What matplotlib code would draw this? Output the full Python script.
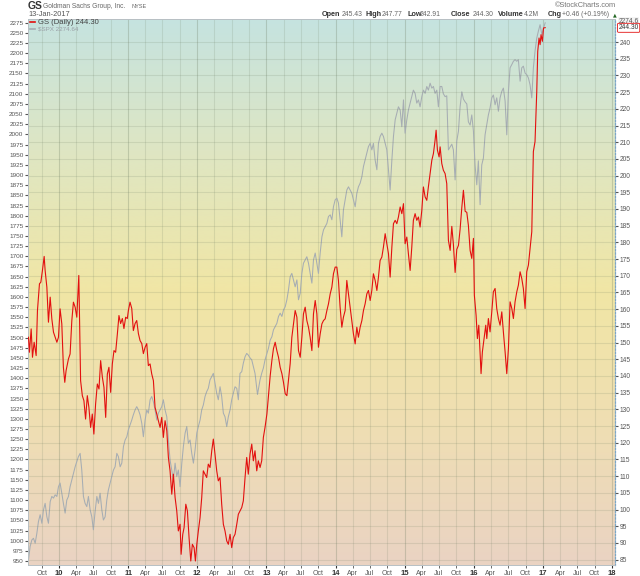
import numpy as np
import pandas as pd
import matplotlib
matplotlib.use("Agg")
import matplotlib.pyplot as plt
import matplotlib.dates as mdates
from matplotlib.colors import LinearSegmentedColormap
from matplotlib.ticker import FixedLocator, FuncFormatter

plt.rcParams['font.family'] = ['Liberation Sans', 'DejaVu Sans']

# ---------------- data (decimal years) ----------------
gs_years = [2009.556, 2009.570, 2009.595, 2009.614, 2009.638, 2009.667, 2009.686, 2009.715, 2009.735, 2009.758,
            2009.783, 2009.797, 2009.822, 2009.845, 2009.870, 2009.894, 2009.918, 2009.942, 2009.967, 2009.990,
            2010.014, 2010.039, 2010.062, 2010.082, 2010.101, 2010.135, 2010.159, 2010.184, 2010.207, 2010.232,
            2010.256, 2010.271, 2010.285, 2010.304, 2010.311, 2010.336, 2010.359, 2010.383, 2010.408, 2010.431,
            2010.456, 2010.480, 2010.503, 2010.528, 2010.553, 2010.577, 2010.601, 2010.626, 2010.649, 2010.674,
            2010.698, 2010.721, 2010.746, 2010.770, 2010.794, 2010.818, 2010.843, 2010.866, 2010.890, 2010.915,
            2010.938, 2010.963, 2010.987, 2011.003, 2011.027, 2011.052, 2011.075, 2011.100, 2011.124, 2011.148,
            2011.172, 2011.197, 2011.220, 2011.245, 2011.269, 2011.292, 2011.317, 2011.341, 2011.365, 2011.389,
            2011.414, 2011.437, 2011.462, 2011.486, 2011.509, 2011.534, 2011.559, 2011.582, 2011.606, 2011.631,
            2011.654, 2011.679, 2011.703, 2011.726, 2011.751, 2011.766, 2011.790, 2011.809, 2011.834, 2011.857,
            2011.881, 2011.906, 2011.929, 2011.954, 2011.973, 2011.993, 2012.016, 2012.041, 2012.065, 2012.088,
            2012.113, 2012.137, 2012.160, 2012.185, 2012.210, 2012.233, 2012.257, 2012.282, 2012.305, 2012.330,
            2012.354, 2012.378, 2012.402, 2012.427, 2012.450, 2012.475, 2012.499, 2012.522, 2012.547, 2012.572,
            2012.595, 2012.619, 2012.644, 2012.667, 2012.692, 2012.716, 2012.739, 2012.764, 2012.789, 2012.812,
            2012.836, 2012.861, 2012.884, 2012.909, 2012.933, 2012.957, 2012.981, 2013.006, 2013.029, 2013.054,
            2013.078, 2013.101, 2013.126, 2013.150, 2013.174, 2013.198, 2013.223, 2013.246, 2013.271, 2013.295,
            2013.318, 2013.343, 2013.367, 2013.391, 2013.415, 2013.440, 2013.463, 2013.488, 2013.512, 2013.535,
            2013.560, 2013.584, 2013.608, 2013.632, 2013.657, 2013.680, 2013.705, 2013.729, 2013.752, 2013.777,
            2013.802, 2013.825, 2013.849, 2013.874, 2013.897, 2013.922, 2013.946, 2013.969, 2013.994, 2014.019,
            2014.042, 2014.066, 2014.091, 2014.114, 2014.139, 2014.163, 2014.187, 2014.211, 2014.236, 2014.259,
            2014.284, 2014.308, 2014.331, 2014.356, 2014.381, 2014.404, 2014.428, 2014.453, 2014.476, 2014.501,
            2014.525, 2014.548, 2014.573, 2014.598, 2014.621, 2014.645, 2014.670, 2014.693, 2014.718, 2014.742,
            2014.766, 2014.790, 2014.815, 2014.838, 2014.863, 2014.887, 2014.910, 2014.935, 2014.959, 2014.983,
            2015.007, 2015.032, 2015.055, 2015.080, 2015.104, 2015.127, 2015.152, 2015.176, 2015.200, 2015.224,
            2015.249, 2015.272, 2015.297, 2015.321, 2015.344, 2015.369, 2015.394, 2015.417, 2015.441, 2015.456,
            2015.475, 2015.499, 2015.514, 2015.538, 2015.561, 2015.586, 2015.610, 2015.634, 2015.659, 2015.683,
            2015.706, 2015.731, 2015.755, 2015.779, 2015.803, 2015.828, 2015.851, 2015.876, 2015.900, 2015.923,
            2015.948, 2015.972, 2015.996, 2016.010, 2016.035, 2016.054, 2016.074, 2016.093, 2016.107, 2016.126,
            2016.151, 2016.175, 2016.190, 2016.213, 2016.237, 2016.262, 2016.285, 2016.310, 2016.334, 2016.358,
            2016.382, 2016.407, 2016.430, 2016.455, 2016.479, 2016.503, 2016.527, 2016.552, 2016.575, 2016.599,
            2016.624, 2016.647, 2016.672, 2016.696, 2016.719, 2016.744, 2016.768, 2016.792, 2016.816, 2016.841,
            2016.864, 2016.888, 2016.913, 2016.927, 2016.946, 2016.961, 2016.975, 2016.994, 2017.009, 2017.033]
gs_close = [151.6, 147.1, 154.1, 145.6, 150.1, 146.1, 159.6, 167.6, 168.1, 171.6,
            175.8, 171.6, 166.6, 156.1, 163.6, 157.1, 153.1, 151.6, 150.1, 151.6,
            160.1, 155.6, 142.6, 138.1, 141.6, 145.1, 146.6, 156.6, 162.1, 160.6,
            157.6, 164.1, 170.1, 146.6, 138.6, 134.1, 132.6, 127.1, 134.1, 130.6,
            124.6, 128.6, 122.6, 131.6, 137.6, 136.1, 144.6, 139.6, 136.6, 127.6,
            140.6, 142.6, 135.1, 143.6, 147.6, 147.1, 152.6, 158.1, 155.7, 157.2,
            154.2, 157.6, 157.2, 159.6, 162.1, 160.2, 153.6, 155.7, 156.6, 152.7,
            150.6, 149.7, 146.7, 148.6, 149.7, 143.1, 143.6, 140.6, 138.6, 130.6,
            128.6, 126.6, 124.6, 127.6, 121.6, 126.6, 123.6, 115.6, 111.6, 104.6,
            110.6, 103.6, 99.6, 93.6, 95.6, 86.6, 92.6, 94.6, 101.6, 99.6,
            91.6, 84.6, 89.6, 88.6, 84.6, 89.6, 93.6, 97.6, 103.6, 111.6,
            110.6, 109.6, 113.6, 112.6, 117.6, 121.1, 116.6, 111.6, 108.6, 109.6,
            101.6, 95.6, 93.6, 90.6, 89.6, 92.6, 88.6, 91.6, 92.6, 95.6,
            98.6, 99.6, 100.6, 102.6, 109.6, 115.6, 110.6, 116.6, 119.6, 114.6,
            117.6, 111.6, 114.6, 112.6, 114.6, 121.6, 124.6, 128.6, 134.1, 140.1,
            144.6, 148.2, 150.1, 147.6, 145.6, 142.6, 140.7, 138.1, 134.7, 134.1,
            138.6, 143.7, 151.6, 155.7, 159.6, 157.6, 147.6, 145.6, 151.6, 158.6,
            160.6, 156.6, 154.6, 151.6, 147.6, 158.6, 162.6, 158.6, 148.6, 152.6,
            155.6, 156.6, 157.1, 159.6, 161.6, 164.6, 166.6, 170.6, 172.6, 172.6,
            168.6, 160.6, 154.6, 157.6, 159.6, 168.6, 164.6, 160.6, 156.6, 152.6,
            149.6, 154.6, 151.6, 154.6, 156.6, 159.6, 161.6, 164.6, 165.6, 162.6,
            165.6, 170.6, 168.6, 165.6, 169.6, 174.6, 175.6, 178.6, 182.6, 179.6,
            176.6, 169.6, 178.6, 185.6, 186.6, 185.6, 187.6, 190.6, 188.6, 191.6,
            179.6, 181.6, 176.6, 171.6, 178.6, 186.6, 188.6, 186.6, 187.6, 184.6,
            189.6, 196.6, 193.6, 192.6, 196.6, 200.6, 204.6, 206.6, 210.6, 213.6,
            207.6, 205.6, 208.6, 203.6, 201.6, 200.6, 197.6, 180.6, 177.6, 184.8,
            179.4, 171.0, 177.9, 179.1, 183.9, 190.5, 195.6, 189.3, 189.0, 185.1,
            177.6, 175.2, 181.2, 164.2, 158.2, 151.2, 155.2, 147.2, 140.7, 147.2,
            151.2, 155.2, 151.2, 157.2, 153.2, 159.2, 165.2, 166.2, 160.2, 157.2,
            155.2, 159.2, 153.2, 147.2, 140.7, 148.2, 162.2, 160.2, 157.2, 162.2,
            165.2, 167.2, 171.2, 169.2, 166.2, 160.2, 171.2, 173.2, 178.2, 183.2,
            207.2, 210.2, 225.2, 237.2, 241.2, 239.2, 242.2, 240.2, 244.2, 244.3]

spx_years = [2009.556, 2009.580, 2009.605, 2009.628, 2009.653, 2009.677, 2009.700, 2009.725, 2009.750, 2009.773,
             2009.797, 2009.822, 2009.845, 2009.870, 2009.894, 2009.918, 2009.942, 2009.967, 2009.990, 2010.014,
             2010.039, 2010.062, 2010.087, 2010.111, 2010.135, 2010.159, 2010.184, 2010.207, 2010.232, 2010.256,
             2010.279, 2010.304, 2010.328, 2010.352, 2010.376, 2010.401, 2010.424, 2010.449, 2010.473, 2010.496,
             2010.521, 2010.546, 2010.569, 2010.593, 2010.618, 2010.641, 2010.666, 2010.690, 2010.713, 2010.738,
             2010.763, 2010.786, 2010.810, 2010.835, 2010.858, 2010.883, 2010.907, 2010.931, 2010.955, 2010.980,
             2011.003, 2011.027, 2011.052, 2011.075, 2011.100, 2011.124, 2011.148, 2011.172, 2011.197, 2011.220,
             2011.245, 2011.269, 2011.292, 2011.317, 2011.341, 2011.365, 2011.389, 2011.414, 2011.437, 2011.462,
             2011.486, 2011.509, 2011.534, 2011.559, 2011.582, 2011.606, 2011.631, 2011.654, 2011.679, 2011.703,
             2011.726, 2011.751, 2011.776, 2011.799, 2011.824, 2011.848, 2011.871, 2011.896, 2011.920, 2011.944,
             2011.968, 2011.993, 2012.016, 2012.041, 2012.065, 2012.088, 2012.113, 2012.137, 2012.160, 2012.185,
             2012.210, 2012.233, 2012.257, 2012.282, 2012.305, 2012.330, 2012.354, 2012.378, 2012.402, 2012.427,
             2012.450, 2012.475, 2012.499, 2012.522, 2012.547, 2012.572, 2012.595, 2012.619, 2012.644, 2012.667,
             2012.692, 2012.716, 2012.739, 2012.764, 2012.789, 2012.812, 2012.836, 2012.855, 2012.872, 2012.909,
             2012.933, 2012.957, 2012.981, 2013.006, 2013.029, 2013.054, 2013.078, 2013.101, 2013.126, 2013.150,
             2013.174, 2013.198, 2013.223, 2013.246, 2013.271, 2013.295, 2013.318, 2013.343, 2013.367, 2013.391,
             2013.415, 2013.440, 2013.463, 2013.488, 2013.512, 2013.535, 2013.560, 2013.584, 2013.608, 2013.632,
             2013.657, 2013.680, 2013.705, 2013.729, 2013.752, 2013.777, 2013.802, 2013.825, 2013.849, 2013.874,
             2013.897, 2013.922, 2013.946, 2013.969, 2013.994, 2014.019, 2014.042, 2014.066, 2014.091, 2014.114,
             2014.139, 2014.163, 2014.187, 2014.211, 2014.236, 2014.259, 2014.284, 2014.308, 2014.331, 2014.356,
             2014.381, 2014.404, 2014.428, 2014.453, 2014.476, 2014.501, 2014.525, 2014.548, 2014.573, 2014.598,
             2014.621, 2014.645, 2014.670, 2014.693, 2014.718, 2014.742, 2014.766, 2014.790, 2014.815, 2014.838,
             2014.863, 2014.887, 2014.910, 2014.935, 2014.959, 2014.983, 2015.007, 2015.032, 2015.055, 2015.080,
             2015.104, 2015.127, 2015.152, 2015.176, 2015.200, 2015.224, 2015.249, 2015.272, 2015.297, 2015.321,
             2015.344, 2015.369, 2015.394, 2015.417, 2015.441, 2015.466, 2015.489, 2015.514, 2015.538, 2015.561,
             2015.586, 2015.610, 2015.634, 2015.659, 2015.683, 2015.706, 2015.731, 2015.755, 2015.779, 2015.803,
             2015.828, 2015.851, 2015.876, 2015.900, 2015.923, 2015.948, 2015.972, 2015.996, 2016.020, 2016.045,
             2016.068, 2016.093, 2016.117, 2016.141, 2016.165, 2016.190, 2016.213, 2016.237, 2016.262, 2016.285,
             2016.310, 2016.334, 2016.358, 2016.382, 2016.407, 2016.430, 2016.455, 2016.479, 2016.503, 2016.527,
             2016.552, 2016.575, 2016.599, 2016.624, 2016.647, 2016.672, 2016.696, 2016.719, 2016.744, 2016.768,
             2016.792, 2016.816, 2016.841, 2016.864, 2016.888, 2016.913, 2016.936, 2016.961, 2016.986, 2017.009,
             2017.033]
spx_close = [953, 986, 1002, 1006, 994, 1018, 1047, 1064, 1043, 1076,
             1092, 1059, 1043, 1096, 1109, 1105, 1113, 1109, 1133, 1142,
             1117, 1092, 1068, 1100, 1109, 1133, 1150, 1166, 1182, 1195,
             1207, 1215, 1174, 1109, 1092, 1084, 1109, 1076, 1059, 1027,
             1072, 1109, 1092, 1117, 1076, 1051, 1059, 1100, 1125, 1142,
             1158, 1174, 1182, 1215, 1207, 1182, 1191, 1232, 1248, 1256,
             1273, 1285, 1297, 1310, 1322, 1330, 1322, 1310, 1289, 1256,
             1297, 1322, 1314, 1347, 1355, 1342, 1322, 1297, 1314, 1322,
             1330, 1347, 1322, 1305, 1248, 1199, 1174, 1150, 1191, 1158,
             1174, 1133, 1191, 1232, 1265, 1281, 1240, 1248, 1215, 1191,
             1223, 1265, 1281, 1297, 1322, 1334, 1355, 1367, 1375, 1396,
             1404, 1412, 1388, 1363, 1347, 1379, 1355, 1314, 1305, 1281,
             1305, 1322, 1347, 1363, 1379, 1375, 1347, 1412, 1416, 1437,
             1453, 1461, 1457, 1450, 1445, 1429, 1412, 1385, 1360, 1396,
             1412, 1425, 1445, 1461, 1474, 1494, 1502, 1519, 1527, 1535,
             1552, 1560, 1552, 1568, 1576, 1593, 1617, 1650, 1658, 1642,
             1625, 1642, 1593, 1609, 1658, 1683, 1691, 1699, 1683, 1658,
             1634, 1691, 1708, 1683, 1658, 1708, 1748, 1765, 1773, 1781,
             1798, 1802, 1790, 1822, 1839, 1843, 1831, 1790, 1748, 1814,
             1839, 1863, 1871, 1863, 1855, 1839, 1822, 1855, 1871, 1880,
             1896, 1921, 1937, 1954, 1970, 1978, 1962, 1978, 1937, 1913,
             1978, 1995, 2003, 1995, 1978, 1962, 1913, 1863, 1937, 1995,
             2036, 2052, 2068, 2060, 2019, 2085, 2003, 2036, 2060, 2077,
             2093, 2109, 2101, 2077, 2085, 2068, 2093, 2109, 2101, 2118,
             2109, 2126, 2114, 2118, 2101, 2109, 2068, 2118, 2118, 2100,
             2093, 2095, 1962, 1969, 1976, 1962, 1888, 1984, 2008, 2068,
             2105, 2087, 2080, 2075, 2031, 2023, 2048, 2008, 1925, 1876,
             1935, 1827, 1925, 1942, 1999, 2024, 2048, 2065, 2090, 2097,
             2073, 2090, 2057, 2090, 2106, 2114, 2082, 1999, 2106, 2164,
             2172, 2180, 2184, 2180, 2184, 2131, 2164, 2168, 2151, 2147,
             2139, 2122, 2090, 2164, 2205, 2237, 2254, 2270, 2246, 2262,
             2274.64]

gs_ticks = list(range(85, 241, 5))
spx_ticks = list(range(950, 2276, 25))
month_labels = {4: 'Apr', 7: 'Jul', 10: 'Oct'}


def to_dates(yrs):
    out = []
    for y in yrs:
        yi = int(y)
        out.append(pd.Timestamp(yi, 1, 1) + pd.Timedelta(days=(y - yi) * 365.25))
    return out


gs_dates = to_dates(gs_years)
spx_dates = to_dates(spx_years)

W, H = 640, 576
fig = plt.figure(figsize=(W / 100, H / 100), dpi=100)
L, R, T, B = 27.7, 615, 18.7, 565
ax = fig.add_axes([L / W, 1 - B / H, (R - L) / W, (B - T) / H])
ax2 = ax.twinx()

# background gradient
cmap = LinearSegmentedColormap.from_list('bg', [(0.0, '#ead3c3'), (0.25, '#efdeb3'), (0.5, '#f1e6a5'),
                                                 (0.75, '#dfe6c2'), (1.0, '#c5e3e0')])
grad = np.linspace(1, 0, 256).reshape(-1, 1)
ax.imshow(grad, extent=[0, 1, 0, 1], transform=ax.transAxes, aspect='auto', cmap=cmap,
          zorder=0, interpolation='bicubic')

# SPX overlay (left axis)
ax.plot(spx_dates, spx_close, color='#a6adb3', lw=0.75, zorder=3)
# GS main (right axis)
ax2.plot(gs_dates, gs_close, color='#e3100f', lw=0.8, zorder=4)

x0 = pd.Timestamp(2009, 7, 19)
x1 = pd.Timestamp(2018, 1, 17)
ax.set_xlim(x0, x1)
ax.set_ylim(940.3, 2284.8)
ax2.set_ylim(83.4, 246.98)

# vertical grid lines
for yr in range(2009, 2019):
    for m in (1, 4, 7, 10):
        d = pd.Timestamp(yr, m, 1)
        if x0 < d < x1:
            ax.axvline(d, color='#6a7a60', alpha=0.28 if m == 1 else 0.16, lw=0.8, zorder=1)
# horizontal grid lines (GS scale)
for v in gs_ticks:
    ax2.axhline(v, color='#6a7a60', alpha=0.16, lw=0.8, zorder=1)

# x ticks
ax.xaxis.set_major_locator(mdates.YearLocator())
ax.xaxis.set_minor_locator(mdates.MonthLocator(bymonth=[4, 7, 10]))
ax.xaxis.set_major_formatter(FuncFormatter(lambda v, p: mdates.num2date(v).strftime('%y')))
ax.xaxis.set_minor_formatter(FuncFormatter(lambda v, p: month_labels.get(mdates.num2date(v).month, '')))
ax.tick_params(axis='x', which='major', labelsize=5.5, length=2, pad=1.5, colors='#333333')
ax.tick_params(axis='x', which='minor', labelsize=5, length=2, pad=1.5, colors='#555555')
for lab in ax.get_xticklabels(which='major'):
    lab.set_fontweight('bold')

ax.yaxis.set_major_locator(FixedLocator(spx_ticks))
ax.tick_params(axis='y', labelsize=4.6, length=2, pad=1, colors='#555555')
ax2.yaxis.set_major_locator(FixedLocator(gs_ticks))
ax2.tick_params(axis='y', labelsize=4.8, length=2, pad=1.5, colors='#555555')

for a in (ax, ax2):
    for s in a.spines.values():
        s.set_color('#b8c0c4')
        s.set_linewidth(0.6)
ax2.spines['right'].set_linestyle(':')
ax2.spines['right'].set_color('#7aa6c8')
ax2.spines['right'].set_linewidth(0.9)


def fx(x):
    return x / W


def fy(y):
    return 1 - y / H


# header
fig.text(fx(28), fy(6), 'GS', fontsize=7.5, fontweight='bold', color='#333333', va='center', ha='left')
fig.text(fx(43), fy(6), 'Goldman Sachs Group, Inc.', fontsize=4.8, color='#666666', va='center', ha='left')
fig.text(fx(131), fy(6), 'NYSE', fontsize=4, color='#666666', va='center', ha='left')
fig.text(fx(28.5), fy(14.5), '13-Jan-2017', fontsize=5.3, color='#555555', va='center', ha='left')
fig.text(fx(616), fy(5.5), '\u00a9StockCharts.com', fontsize=5.3, color='#777777', va='center', ha='right')

header = [('Open', 322, True), ('245.43', 342, False), ('High', 366, True), ('247.77', 382, False),
          ('Low', 407, True), ('242.91', 420, False), ('Close', 451, True), ('244.30', 473, False),
          ('Volume', 498, True), ('4.2M', 524, False), ('Chg', 548, True), ('+0.46 (+0.19%)', 562, False)]
for txt, xp, bold in header:
    fig.text(fx(xp), fy(14.5), txt, fontsize=5.2 if bold else 4.9, fontweight='bold' if bold else 'normal',
             color='#333333' if bold else '#666666', va='center', ha='left')
fig.text(fx(613), fy(14.5), '\u25b2', fontsize=3.5, color='#226622', va='center', ha='left',
         family=['DejaVu Sans'])

# legend
fig.lines.append(plt.Line2D([fx(29.5), fx(35)], [fy(22.3), fy(22.3)], color='#e3100f', lw=1.2,
                            transform=fig.transFigure))
fig.text(fx(37.5), fy(22.3), 'GS (Daily) 244.30', fontsize=5.5, color='#444444', va='center', ha='left')
fig.lines.append(plt.Line2D([fx(29.5), fx(35)], [fy(29), fy(29)], color='#a6adb3', lw=1.2,
                            transform=fig.transFigure))
fig.text(fx(37.5), fy(29), '$SPX 2274.64', fontsize=4.5, color='#9aa0a6', va='center', ha='left')

# last value labels on right
fig.text(fx(618.5), fy(21.3), '2274.6', fontsize=4.8, color='#555555', va='center', ha='left',
         bbox=dict(boxstyle='square,pad=0.1', fc='#f4f4f4', ec='none'))
fig.text(fx(618.5), fy(27.8), '244.30', fontsize=4.8, color='#333333', va='center', ha='left',
         bbox=dict(boxstyle='round,pad=0.15', fc='white', ec='#e3100f', lw=0.6))

fig.savefig('out.png', dpi=100)
